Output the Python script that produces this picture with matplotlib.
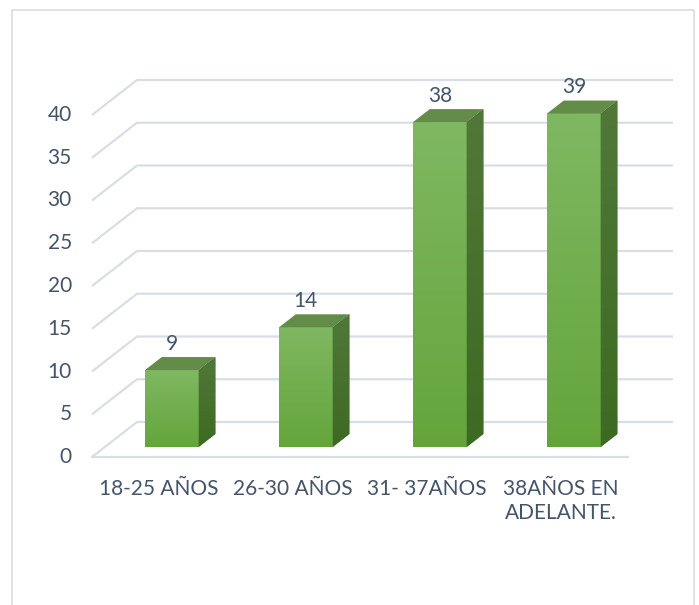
import numpy as np
import matplotlib.pyplot as plt
from matplotlib.colors import LinearSegmentedColormap
from matplotlib.patches import Polygon, Rectangle

# ------------------------------------------------------------
# datos
# ------------------------------------------------------------
categorias = ['18-25 AÑOS', '26-30 AÑOS', '31- 37AÑOS', '38AÑOS EN\nADELANTE.']
valores = [9, 14, 38, 39]
ticks_y = [0, 5, 10, 15, 20, 25, 30, 35, 40]

plt.rcParams['font.family'] = ['Lato', 'DejaVu Sans']
COLOR_TEXTO = '#44546A'
COLOR_GRID = '#D9DEE6'

# perspectiva (en unidades de datos): profundidad 1 = fondo del grafico
DX = 45 / 134      # desplazamiento horizontal en categorias
DV = 35 / 8.55     # desplazamiento vertical en unidades de valor
D0, D1 = 0.286, 0.657   # profundidad frontal / trasera de las barras
ANCHO = 0.4

fig = plt.figure(figsize=(6.99, 6.05), dpi=100)
ax = fig.add_axes([0, 0, 1, 1])
ax.axis('off')

# marco exterior
fig.patches.append(Rectangle((12 / 699, -0.02), 682 / 699, 1 - 10 / 605 + 0.02,
                             transform=fig.transFigure, fill=False,
                             edgecolor='#D9DCE3', linewidth=1.2))

n = len(categorias)
x0, x1 = -0.5, n - 0.5

# lineas de cuadricula (pared trasera + pared lateral)
for v in ticks_y:
    ax.plot([x0, x0 + DX, x1 + DX], [v, v + DV, v + DV],
            color=COLOR_GRID, lw=1.6, zorder=1, solid_capstyle='butt')
    ax.text(x0 - 0.15, v, str(v), ha='right', va='center',
            fontsize=15, color=COLOR_TEXTO)
ax.plot([x0, x1], [0, 0], color=COLOR_GRID, lw=1.6, zorder=1)

cmap_frente = LinearSegmentedColormap.from_list('frente', ['#64A53B', '#7FB862'])
cmap_lado = LinearSegmentedColormap.from_list('lado', ['#3D6A22', '#517838'])
grad = np.linspace(0, 1, 256).reshape(-1, 1)

for i, val in enumerate(valores):
    xl = i - ANCHO / 2 + D0 * DX
    xr = i + ANCHO / 2 + D0 * DX
    yb = D0 * DV
    yt = val + D0 * DV
    ddx = (D1 - D0) * DX
    ddv = (D1 - D0) * DV
    # cara frontal con degradado
    ax.imshow(grad, extent=(xl, xr, yb, yt), origin='lower', cmap=cmap_frente,
              aspect='auto', zorder=3)
    # cara lateral
    lado = Polygon([(xr, yb), (xr + ddx, yb + ddv), (xr + ddx, yt + ddv), (xr, yt)],
                   closed=True, facecolor='#47712D', edgecolor='none', zorder=3)
    ax.add_patch(lado)
    img = ax.imshow(grad, extent=(xr, xr + ddx, yb, yt + ddv), origin='lower',
                    cmap=cmap_lado, aspect='auto', zorder=3)
    img.set_clip_path(lado)
    # cara superior
    ax.add_patch(Polygon([(xl, yt), (xr, yt), (xr + ddx, yt + ddv), (xl + ddx, yt + ddv)],
                         closed=True, facecolor='#628C47', edgecolor='none', zorder=3))
    # etiqueta de valor
    ax.text((xl + xr) / 2, val + D1 * DV + 0.4, str(val), ha='center', va='bottom',
            fontsize=15, color=COLOR_TEXTO, zorder=4)
    # etiqueta de categoria
    ax.text(i, -2.6, categorias[i], ha='center', va='top', fontsize=15,
            color=COLOR_TEXTO, linespacing=1.25)

# escala: categoria c -> px 159 + 134c ; valor v -> px desde abajo 148 + 8.55v
ax.set_xlim((0 - 159) / 134, (699 - 159) / 134)
ax.set_ylim((0 - 148) / 8.55, (605 - 148) / 8.55)

plt.savefig('out.png', dpi=100, facecolor='white')
plt.close()
